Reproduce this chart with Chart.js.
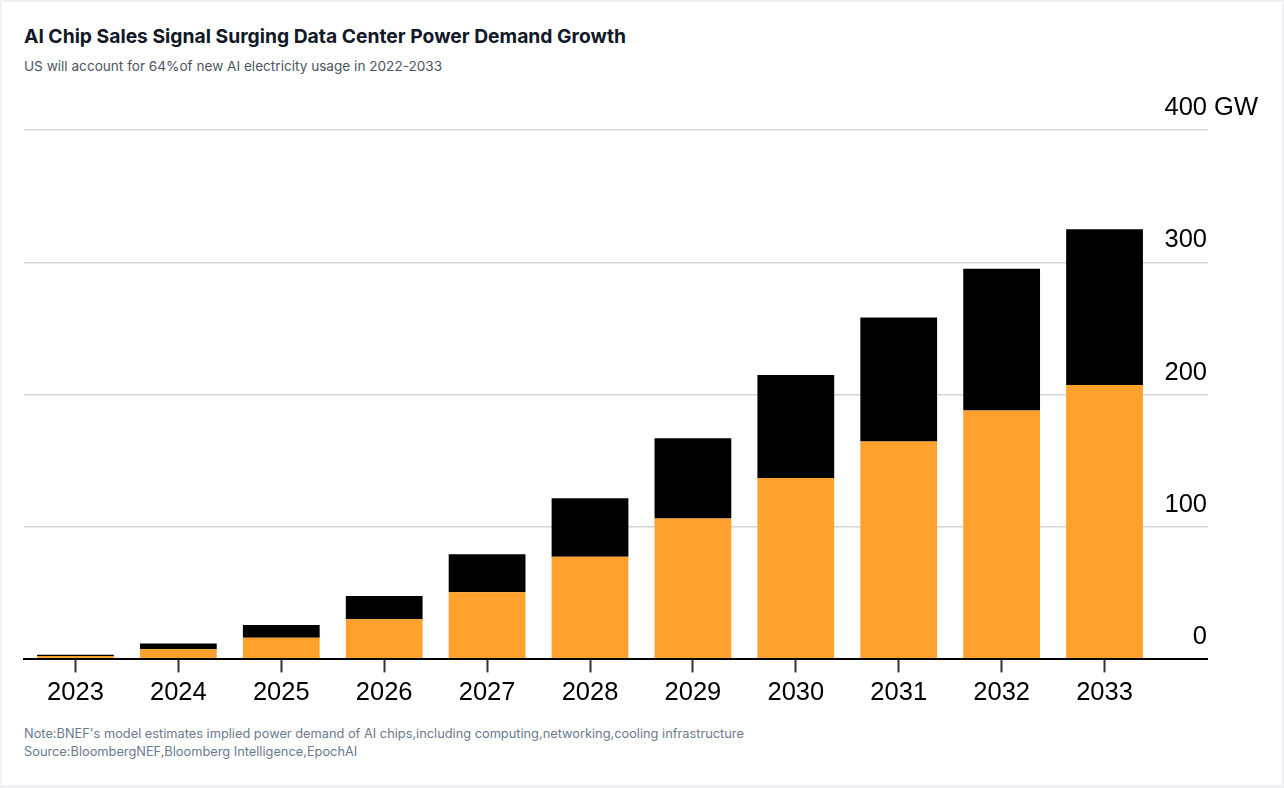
<!DOCTYPE html>
<html>
<head>
<meta charset="utf-8">
<script src="https://cdn.jsdelivr.net/npm/chart.js@4"></script>
<style>
  html, body { margin: 0; padding: 0; }
  body { width: 1284px; height: 788px; background: #eef2f6; position: relative; overflow: hidden; font-family: Inter, "Noto Sans", sans-serif; }
  .card { position: absolute; left: 2px; top: 2px; width: 1280px; height: 783px; background: #fff; }
  .title { position: absolute; left: 24px; top: 25px; font-size: 19.3px; line-height: 22px; font-weight: 700; color: #111827; white-space: nowrap; }
  .subtitle { position: absolute; left: 24px; top: 58px; font-size: 13.6px; line-height: 16px; color: #4b5563; white-space: nowrap; }
  .notes { position: absolute; left: 24px; top: 725px; font-size: 12.8px; line-height: 18px; color: #6b7a90; white-space: nowrap; }
  .wrap { position: absolute; left: 0; top: 80px; width: 1284px; height: 640px; }
</style>
</head>
<body>
<div class="card"></div>
<div class="title">AI Chip Sales Signal Surging Data Center Power Demand Growth</div>
<div class="subtitle">US will account for 64%of new AI electricity usage in 2022-2033</div>
<div class="wrap"><canvas id="c"></canvas></div>
<div class="notes">Note:BNEF's model estimates implied power demand of AI chips,including computing,networking,cooling infrastructure<br>Source:BloombergNEF,Bloomberg Intelligence,EpochAI</div>
<script>
const years = ['2023', '2024', '2025', '2026', '2027', '2028', '2029', '2030', '2031', '2032', '2033'];
const usGW = [2.5, 7.6, 16.4, 30.3, 50.8, 77.5, 106.5, 137.1, 164.6, 188.1, 207.3];
const restOfWorldGW = [1.0, 4.5, 9.6, 17.6, 28.7, 44.2, 60.6, 77.7, 93.7, 107.1, 117.7];
const yTickValues = [0, 100, 200, 300, 400];
const unitLabel = 'GW';

const TICK_FONT = { family: '"Liberation Sans", Arial, sans-serif', size: 25.5 };
const Y_LABEL_PAD = 51;
const Y_LABEL_OFFSET = -22;

const unitPlugin = {
  id: 'unitLabel',
  afterDraw(chart) {
    const s = chart.scales.y;
    const top = yTickValues[yTickValues.length - 1];
    const ctx = chart.ctx;
    ctx.save();
    ctx.font = TICK_FONT.size + 'px ' + TICK_FONT.family;
    ctx.fillStyle = '#000';
    ctx.textAlign = 'left';
    ctx.textBaseline = 'middle';
    ctx.fillText(' ' + unitLabel, s.left + Y_LABEL_PAD, s.getPixelForValue(top) + Y_LABEL_OFFSET);
    ctx.restore();
  }
};

new Chart(document.getElementById('c'), {
  type: 'bar',
  data: {
    labels: years,
    datasets: [
      { label: 'US', data: usGW, backgroundColor: '#FFA12C', borderWidth: 0 },
      { label: 'Rest of world', data: restOfWorldGW, backgroundColor: '#000000', borderWidth: 0 }
    ]
  },
  options: {
    responsive: true,
    maintainAspectRatio: false,
    animation: false,
    devicePixelRatio: 1,
    layout: { padding: { left: 24, right: 76, top: 50, bottom: 7 } },
    datasets: { bar: { categoryPercentage: 1, barPercentage: 0.746 } },
    plugins: { legend: { display: false }, tooltip: { enabled: false } },
    scales: {
      x: {
        stacked: true,
        offset: true,
        grid: { display: true, drawOnChartArea: false, drawTicks: true, tickLength: 13, offset: false, tickColor: '#333', tickWidth: 2 },
        border: { display: true, color: '#000', width: 2, z: 1 },
        ticks: { font: TICK_FONT, color: '#000', padding: 5, maxRotation: 0, autoSkip: false }
      },
      y: {
        stacked: true,
        position: 'right',
        min: 0,
        max: 400,
        afterBuildTicks: (s) => { s.ticks = yTickValues.map(v => ({ value: v })); },
        afterFit: (s) => { s.width = 52; s.paddingTop = 0; s.paddingBottom = 0; },
        grid: {
          color: (c) => (c.tick && c.tick.value === 0) ? '#000' : '#d4d4d4',
          lineWidth: (c) => (c.tick && c.tick.value === 0) ? 2 : 1.6,
          tickColor: (c) => (c.tick && c.tick.value === 0) ? '#000' : '#d4d4d4',
          tickWidth: (c) => (c.tick && c.tick.value === 0) ? 2 : 1.6,
          drawTicks: true,
          tickLength: 52
        },
        border: { display: false },
        ticks: {
          mirror: true,
          padding: Y_LABEL_PAD,
          labelOffset: Y_LABEL_OFFSET,
          font: TICK_FONT,
          color: '#000',
          crossAlign: 'near',
          callback: (v) => String(v)
        }
      }
    }
  },
  plugins: [unitPlugin]
});
</script>
</body>
</html>
